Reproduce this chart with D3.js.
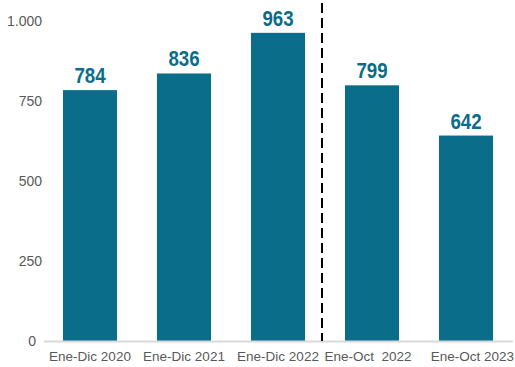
<!DOCTYPE html>
<html>
<head>
<meta charset="utf-8">
<script src="https://cdn.jsdelivr.net/npm/d3@7"></script>
<style>
  body { margin: 0; background: #fff; }
  svg { display: block; }
</style>
</head>
<body>
<script>
// data
const categories = ["Ene-Dic 2020", "Ene-Dic 2021", "Ene-Dic 2022", "Ene-Oct  2022", "Ene-Oct 2023"];
const values = [784, 836, 963, 799, 642];
const yTicks = [0, 250, 500, 750, 1000];
const dividerAfter = "Ene-Dic 2022";

const width = 515, height = 367;
const margin = {top: 21, right: 2, bottom: 26, left: 43};
const barColor = "#0a6d89";

const svg = d3.select("body").append("svg")
    .attr("width", width).attr("height", height);

const x = d3.scaleBand()
    .domain(categories)
    .range([margin.left, width - margin.right])
    .paddingInner(0.425).paddingOuter(0.2125);

const y = d3.scaleLinear()
    .domain([0, 1000])
    .range([height - margin.bottom, margin.top]);

const fmt = d => d3.format(",")(d).replace(/,/g, ".");

// y tick labels (no axis line) - the zero sits a bit further left, like the original
svg.append("g").selectAll("text")
    .data(yTicks)
    .enter().append("text")
    .attr("x", d => d === 0 ? margin.left - 7 : margin.left - 1)
    .attr("y", d => y(d) + 5)
    .attr("text-anchor", "end")
    .style("font", "14px 'Liberation Sans', Arial, sans-serif")
    .style("fill", "#595959")
    .text(fmt);

// bars
svg.selectAll("rect.bar")
    .data(values)
    .enter().append("rect")
    .attr("class", "bar")
    .attr("x", (d, i) => x(categories[i]))
    .attr("y", d => y(d))
    .attr("width", x.bandwidth())
    .attr("height", d => y(0) - y(d))
    .attr("fill", barColor);

// value labels, squeezed to look like a narrow bold face
svg.selectAll("text.val")
    .data(values)
    .enter().append("text")
    .attr("class", "val")
    .attr("transform", (d, i) => "translate(" + (x(categories[i]) + x.bandwidth() / 2) + "," + (y(d) - 7) + ") scale(0.85,1)")
    .attr("text-anchor", "middle")
    .style("font", "bold 22px 'Liberation Sans', Arial, sans-serif")
    .style("fill", barColor)
    .text(d => d);

// x axis baseline
svg.append("line")
    .attr("x1", margin.left + 1).attr("x2", width - margin.right)
    .attr("y1", y(0) + 0.5).attr("y2", y(0) + 0.5)
    .attr("stroke", "#d9d9d9").attr("stroke-width", 2);

// category labels (the last one is pushed against the right edge)
const last = categories[categories.length - 1];
svg.selectAll("text.cat")
    .data(categories)
    .enter().append("text")
    .attr("class", "cat")
    .attr("x", d => d === last ? width - 1 : x(d) + x.bandwidth() / 2 - (d === "Ene-Oct  2022" ? 4 : 0))
    .attr("y", height - 6)
    .attr("text-anchor", d => d === last ? "end" : "middle")
    .attr("xml:space", "preserve")
    .style("white-space", "pre")
    .style("font", "13.5px 'Liberation Sans', Arial, sans-serif")
    .style("fill", "#595959")
    .text(d => d);

// dashed divider between the yearly and Jan-Oct groups
const step = x.step();
const divX = x(dividerAfter) + x.bandwidth() + (step - x.bandwidth()) / 2 - 3;
svg.append("line")
    .attr("x1", divX).attr("x2", divX)
    .attr("y1", 3).attr("y2", y(0))
    .attr("stroke", "#000").attr("stroke-width", 2)
    .attr("stroke-dasharray", "10,5");
</script>
</body>
</html>
